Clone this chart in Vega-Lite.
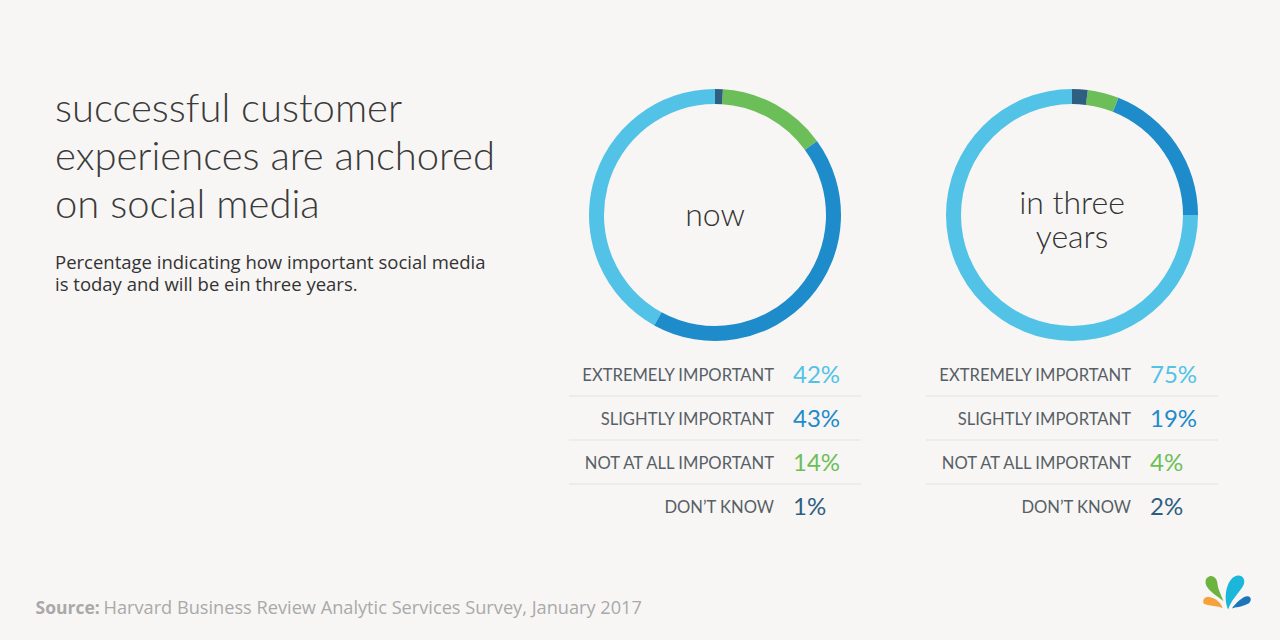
{
  "$schema": "https://vega.github.io/schema/vega-lite/v6.json",
  "width": 1280,
  "height": 640,
  "autosize": {"type": "none"},
  "padding": 0,
  "background": "#f7f6f5",
  "config": {"view": {"stroke": null}},
  "datasets": {
    "shares": [
      {"panel": "now", "category": "EXTREMELY IMPORTANT", "rank": 1, "value": 42},
      {"panel": "now", "category": "SLIGHTLY IMPORTANT", "rank": 2, "value": 43},
      {"panel": "now", "category": "NOT AT ALL IMPORTANT", "rank": 3, "value": 14},
      {"panel": "now", "category": "DON’T KNOW", "rank": 4, "value": 1},
      {"panel": "in three years", "category": "EXTREMELY IMPORTANT", "rank": 1, "value": 75},
      {"panel": "in three years", "category": "SLIGHTLY IMPORTANT", "rank": 2, "value": 19},
      {"panel": "in three years", "category": "NOT AT ALL IMPORTANT", "rank": 3, "value": 4},
      {"panel": "in three years", "category": "DON’T KNOW", "rank": 4, "value": 2}
    ],
    "panels": [
      {"panel": "now", "label": "now"},
      {"panel": "in three years", "label": "in three\nyears"}
    ],
    "logo": [
      {"petal": "green"},
      {"petal": "cyan"},
      {"petal": "orange"},
      {"petal": "blue"}
    ]
  },
  "title": {
    "text": ["successful customer", "experiences are anchored", "on social media"],
    "subtitle": ["Percentage indicating how important social media", "is today and will be ein three years."],
    "anchor": "start",
    "frame": "group",
    "orient": "top",
    "offset": -294,
    "dx": 55,
    "font": "Lato",
    "fontWeight": 300,
    "fontSize": 40,
    "lineHeight": 48,
    "color": "#3a3a3a",
    "subtitleFont": "Open Sans",
    "subtitleFontSize": 18.5,
    "subtitleLineHeight": 22,
    "subtitleColor": "#333333",
    "subtitlePadding": 28
  },
  "encoding": {
    "x": {
      "field": "panel",
      "type": "nominal",
      "scale": {"type": "point", "domain": ["now", "in three years"], "range": [715, 1072], "padding": 0},
      "axis": {
        "labels": false, "ticks": false, "domain": false, "grid": false,
        "title": "Harvard Business Review Analytic Services Survey, January 2017",
        "titleX": 103, "titleY": -27, "titleAlign": "left", "titleAnchor": "start",
        "titleBaseline": "alphabetic", "titleFont": "Open Sans", "titleFontSize": 18.2,
        "titleFontWeight": "normal", "titleColor": "#a9a9a9"
      }
    }
  },
  "layer": [
    {
      "data": {"name": "shares"},
      "transform": [
        {"stack": "value", "groupby": ["panel"], "sort": [{"field": "rank", "order": "descending"}], "as": ["v0", "v1"]}
      ],
      "mark": {"type": "arc", "radius": 126, "radius2": 111, "yOffset": -105},
      "encoding": {
        "theta": {"field": "v0", "type": "quantitative", "scale": {"domain": [0, 100]}},
        "theta2": {"field": "v1"},
        "color": {
          "field": "category", "type": "nominal",
          "scale": {
            "domain": ["EXTREMELY IMPORTANT", "SLIGHTLY IMPORTANT", "NOT AT ALL IMPORTANT", "DON’T KNOW"],
            "range": ["#52c3e7", "#1e8bcb", "#6cbf58", "#2f5f80"]
          },
          "legend": null
        }
      }
    },
    {
      "data": {"name": "panels"},
      "transform": [{"filter": "datum.panel == 'now'"}],
      "mark": {"type": "text", "font": "Lato", "fontWeight": 300, "fontSize": 32, "color": "#333333", "align": "center", "baseline": "middle", "dy": -104},
      "encoding": {"text": {"field": "label"}}
    },
    {
      "data": {"name": "panels"},
      "transform": [{"filter": "datum.panel != 'now'"}],
      "mark": {"type": "text", "font": "Lato", "fontWeight": 300, "fontSize": 32, "color": "#333333", "lineBreak": "\n", "lineHeight": 34, "align": "center", "baseline": "middle", "dy": -116},
      "encoding": {"text": {"field": "label"}}
    },
    {
      "data": {"name": "shares"},
      "transform": [{"calculate": "datum.value + '%'", "as": "pct"}],
      "encoding": {
        "y": {
          "field": "category", "type": "nominal",
          "scale": {"type": "point", "domain": ["EXTREMELY IMPORTANT", "SLIGHTLY IMPORTANT", "NOT AT ALL IMPORTANT", "DON’T KNOW"], "range": [374, 506], "padding": 0},
          "axis": {
            "labels": false, "ticks": false, "domain": false, "grid": false,
            "title": "Source:", "titleAngle": 0, "titleX": 35, "titleY": 613,
            "titleAlign": "left", "titleBaseline": "alphabetic", "titleFont": "Open Sans",
            "titleFontSize": 17.5, "titleFontWeight": "bold", "titleColor": "#a9a9a9"
          }
        }
      },
      "layer": [
        {
          "transform": [{"filter": "datum.rank < 4"}],
          "mark": {"type": "tick", "orient": "horizontal", "size": 292, "thickness": 1, "color": "#dddbd9", "yOffset": 22}
        },
        {
          "mark": {"type": "text", "font": "Lato", "fontSize": 16.6, "color": "#585f65", "align": "right", "baseline": "middle", "dx": 59, "dy": 2},
          "encoding": {"text": {"field": "category"}}
        },
        {
          "mark": {"type": "text", "font": "Lato", "fontWeight": "normal", "fontSize": 24, "align": "left", "baseline": "middle", "dx": 78, "dy": 2},
          "encoding": {
            "text": {"field": "pct"},
            "color": {"field": "category", "type": "nominal", "legend": null}
          }
        }
      ]
    },
    {
      "data": {"name": "logo"},
      "mark": {"type": "point", "filled": true, "opacity": 1, "size": 2304, "xOffset": 155, "yOffset": 274},
      "encoding": {
        "x": {"datum": "in three years"},
        "shape": {
          "field": "petal", "type": "nominal",
          "scale": {
            "domain": ["green", "cyan", "orange", "blue"],
            "range": [
              "M -0.15 0.3 C -0.35 0.1 -1.0 -0.2 -0.88 -0.6 C -0.75 -0.88 -0.42 -0.75 -0.4 -0.45 C -0.36 -0.1 -0.2 0.1 -0.15 0.3 Z",
              "M 0.05 0.65 C -0.15 0.2 -0.05 -0.5 0.3 -0.72 C 0.6 -0.9 0.85 -0.6 0.65 -0.3 C 0.45 0 0.15 0.3 0.05 0.65 Z",
              "M -0.18 0.58 C -0.4 0.5 -0.7 0.5 -0.95 0.42 C -1.05 0.3 -0.95 0.1 -0.75 0.12 C -0.5 0.15 -0.25 0.35 -0.18 0.58 Z",
              "M 0.2 0.6 C 0.4 0.35 0.7 0.05 0.9 0.1 C 1.05 0.15 1.0 0.35 0.85 0.42 C 0.6 0.55 0.35 0.55 0.2 0.6 Z"
            ]
          },
          "legend": null
        },
        "fill": {
          "field": "petal", "type": "nominal",
          "scale": {"domain": ["green", "cyan", "orange", "blue"], "range": ["#6db33f", "#1ab7da", "#f5a23a", "#1a75bb"]},
          "legend": null
        }
      }
    }
  ]
}
